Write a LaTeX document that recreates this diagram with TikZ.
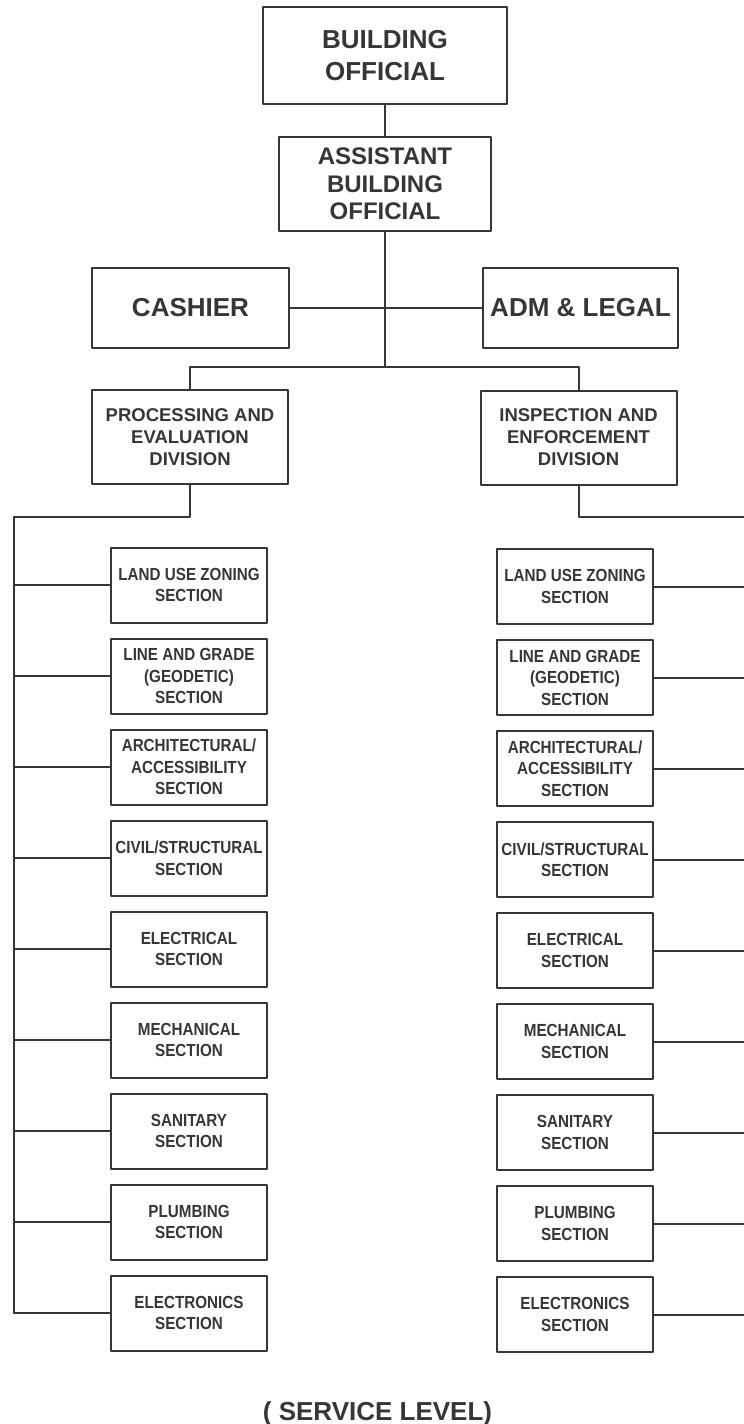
\documentclass[tikz,border=0pt]{standalone}
\usepackage{fontspec}
\setmainfont{Liberation Sans}
\newfontfamily\secfont{Liberation Sans}[FakeStretch=0.87]
\definecolor{ink}{HTML}{363636}
\begin{document}
\begin{tikzpicture}[x=1pt, y=1pt, line join=round, line cap=round,
    box/.style={draw=ink, line width=2pt, text=ink, align=center, inner sep=0pt},
    topbox/.style={box, font=\fontsize{26}{32}\selectfont\bfseries},
    divbox/.style={box, minimum width=196, minimum height=94, font=\fontsize{18.5}{22}\selectfont\bfseries},
    secbox/.style={box, minimum width=156, minimum height=75, font=\secfont\fontsize{17.5}{21.5}\selectfont\bfseries},
    link/.style={draw=ink, line width=2pt}]
  \useasboundingbox (0,0) rectangle (744,-1424);
  % top of the chart
  \node[topbox, minimum width=244, minimum height=97] (bo) at (385,-55.5) {BUILDING\\OFFICIAL};
  \node[box, minimum width=212, minimum height=94, font=\fontsize{24}{27.7}\selectfont\bfseries] (abo) at (385,-184) {ASSISTANT\\BUILDING\\OFFICIAL};
  \node[topbox, minimum width=197, minimum height=80] (cash) at (190.5,-308) {CASHIER};
  \node[topbox, minimum width=195, minimum height=80] (adm) at (580.5,-308) {ADM \& LEGAL};
  \node[divbox] (ped) at (190,-437) {PROCESSING AND\\EVALUATION\\DIVISION};
  \node[divbox] (ied) at (578.5,-437.5) {INSPECTION AND\\ENFORCEMENT\\DIVISION};
  \coordinate (j) at (385,-367);
  \draw[link] (bo) -- (abo);
  \draw[link] (abo) -- (j);
  \draw[link] (cash) -- (adm);
  \draw[link] (ped.north) |- (j) -| (ied.north);
  % sections of both divisions
  \coordinate (lbus) at (14,-517);
  \coordinate (rbus) at (744,-517);
  \draw[link] (ped.south) |- (lbus);
  \draw[link] (ied.south) |- (rbus);
  \foreach \t [count=\i] in {{LAND USE ZONING\\SECTION}, {LINE AND GRADE\\(GEODETIC)\\SECTION},
      {ARCHITECTURAL/\\ACCESSIBILITY\\SECTION}, {CIVIL/STRUCTURAL\\SECTION}, {ELECTRICAL\\SECTION},
      {MECHANICAL\\SECTION}, {SANITARY\\SECTION}, {PLUMBING\\SECTION}, {ELECTRONICS\\SECTION}} {
    \node[secbox] (l\i) at (189,{-585-91*(\i-1)}) {\t};
    \node[secbox] (r\i) at (575,{-586.5-91*(\i-1)}) {\t};
    \draw[link] (l\i.west) -- (l\i.west -| lbus);
    \draw[link] (r\i.east) -- (r\i.east -| rbus);
  }
  \draw[link] (lbus) -- (lbus |- l9.west);
  \node[text=ink, font=\fontsize{26}{30}\selectfont\bfseries, anchor=base] (lvl) at (377.5,-1420) {( SERVICE LEVEL)};
\end{tikzpicture}
\end{document}
